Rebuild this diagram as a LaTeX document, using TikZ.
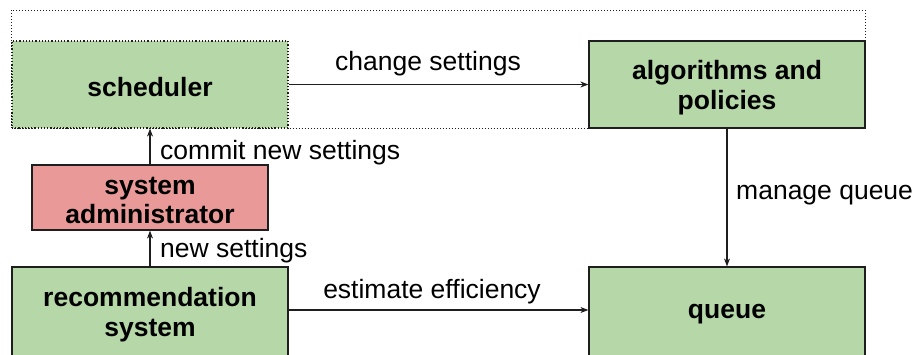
\documentclass[tikz,border=0pt]{standalone}
\usepackage{fontspec}
\setmainfont{Liberation Sans}
\usetikzlibrary{arrows.meta}
\definecolor{boxgreen}{RGB}{182,215,168}
\definecolor{boxred}{RGB}{234,153,153}
\definecolor{edge}{RGB}{30,30,30}
\tikzset{
  block/.style={rectangle, fill=boxgreen, draw=edge, line width=1.2pt,
    inner sep=0pt},
  caption/.style={inner sep=0pt, align=center, yshift=-3pt,
    font=\fontsize{26.5}{29.5}\selectfont\bfseries},
  link/.style={draw=edge, line width=1.1pt, -{Stealth[length=8pt,width=6pt]}},
  lbl/.style={inner sep=0pt, font=\fontsize{26.5}{29.5}\selectfont},
}
\begin{document}
\begin{tikzpicture}[x=1pt,y=-1pt]
\useasboundingbox (0,0) rectangle (916,354);
% group frame around scheduler and algorithms
\draw[edge, line width=1pt, dotted] (11.5,10) rectangle (865,128);

\node[block, dotted, minimum width=276pt, minimum height=87pt,
  label={[caption]center:scheduler}] (sched) at (150,84.5) {};
\node[block, minimum width=276pt, minimum height=87pt,
  label={[caption]center:algorithms and\\policies}] (algo) at (727,84.5) {};
\node[block, fill=boxred, minimum width=236pt, minimum height=65pt,
  label={[caption]center:system\\administrator}] (admin) at (150,197.5) {};
\node[block, minimum width=276pt, minimum height=89pt,
  label={[caption]center:recommendation\\system}] (rec) at (150,311.5) {};
\node[block, minimum width=276pt, minimum height=89pt,
  label={[caption]center:queue}] (queue) at (727,311.5) {};

\draw[link] (sched.east) -- (algo.west);
\draw[link] (algo.south) -- (queue.north);
\draw[link] (admin.north) -- (sched.south);
\draw[link] (rec.north) -- (admin.south);
\draw[link] (rec.east |- 0,310) -- (queue.west |- 0,310);

\node[lbl] (l1) at (428,64) {change settings};
\node[lbl] (l2) at (432,292) {estimate efficiency};
\node[lbl, anchor=west] (l3) at (736,195) {manage queue};
\node[lbl, anchor=west] (l4) at (160,153) {commit new settings};
\node[lbl, anchor=west] (l5) at (160,251) {new settings};
\end{tikzpicture}
\end{document}
